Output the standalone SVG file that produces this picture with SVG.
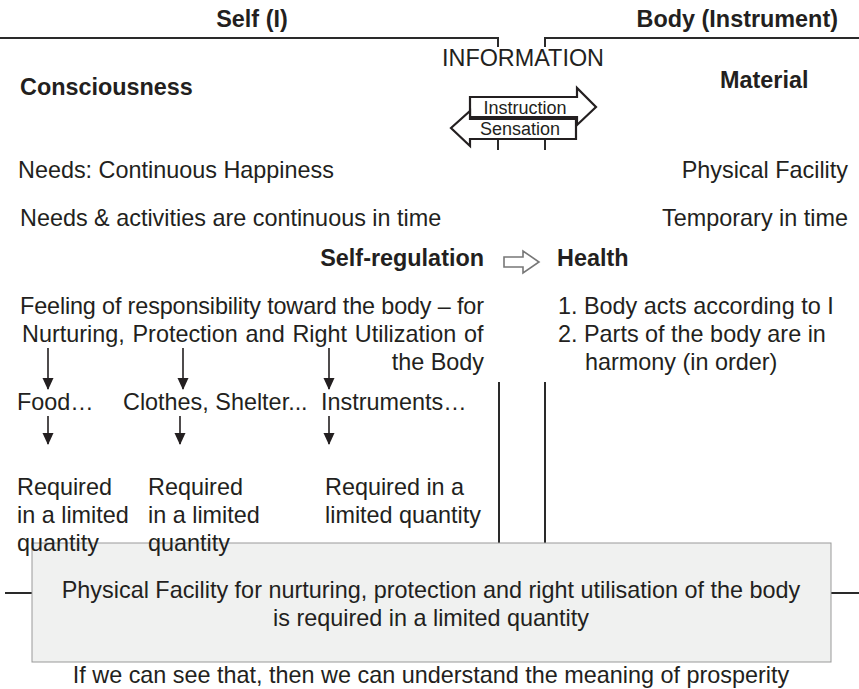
<svg xmlns="http://www.w3.org/2000/svg" width="859" height="689" viewBox="0 0 859 689">
<style>
text{font-family:"Liberation Sans",Arial,sans-serif;fill:#231f20;font-size:23.4px}
.b{font-weight:bold}
.e{text-anchor:end}
.m{text-anchor:middle}
.sm{font-size:18px}
.ln{stroke:#2a2a2a;stroke-width:2;fill:none}
.blk{fill:#fff;stroke:#231f20;stroke-width:2.2;stroke-linejoin:miter}
.dn{stroke:#231f20;stroke-width:1.6;fill:none;marker-end:url(#ah)}
</style>
<defs>
<marker id="ah" markerWidth="12" markerHeight="12" refX="11" refY="6" orient="auto" markerUnits="userSpaceOnUse" viewBox="0 0 12 12">
<path d="M0,0.5 L12,6 L0,11.5 Z" fill="#231f20"/>
</marker>
</defs>
<g id="connectors">
<path class="ln" d="M0,38 H498 V47"/>
<path class="ln" d="M545,47 V38 H859"/>
<path class="ln" d="M498,139 V150 M545,139 V150"/>
<path class="ln" d="M499,382 V543 M545,382 V543"/>
<path class="ln" d="M5,593 H32 M831,593 H859"/>
<line class="dn" x1="48" y1="348" x2="48" y2="389"/>
<line class="dn" x1="183" y1="348" x2="183" y2="389"/>
<line class="dn" x1="329" y1="348" x2="329" y2="389"/>
<line class="dn" x1="48" y1="416" x2="48" y2="444"/>
<line class="dn" x1="180" y1="416" x2="180" y2="444"/>
<line class="dn" x1="329" y1="416" x2="329" y2="444"/>
<path d="M504,257 H523 V251 L539,262 L523,273 V267 H504 Z" fill="#fff" stroke="#777" stroke-width="1.6"/>
</g>
<g id="self-header"><text class="b m" x="252" y="27">Self (I)</text></g>
<g id="body-header"><text class="b e" x="838" y="27">Body (Instrument)</text></g>
<g id="information"><text class="m" x="523" y="66">INFORMATION</text></g>
<g id="consciousness"><text class="b" x="20" y="95">Consciousness</text></g>
<g id="material"><text class="b" x="720" y="88">Material</text></g>
<g id="instruction">
<path class="blk" d="M470,97 H577 V88 L596,107 L577,125 V117 H470 Z"/>
<text class="sm m" x="525" y="114">Instruction</text>
</g>
<g id="sensation">
<path class="blk" d="M451,128 L470,111 V119 H576 V139 H470 V146 Z"/>
<text class="sm m" x="520" y="135">Sensation</text>
</g>
<g id="needs"><text x="18" y="178">Needs: Continuous Happiness</text></g>
<g id="physical-facility"><text class="e" x="848" y="178">Physical Facility</text></g>
<g id="continuous"><text x="20" y="226">Needs &amp; activities are continuous in time</text></g>
<g id="temporary"><text class="e" x="848" y="226">Temporary in time</text></g>
<g id="self-regulation"><text class="b e" x="484" y="266">Self-regulation</text></g>
<g id="health"><text class="b" x="557" y="266">Health</text></g>
<g id="responsibility">
<text x="20" y="314" textLength="464" lengthAdjust="spacing">Feeling of responsibility toward the body – for</text>
<text x="22" y="342" word-spacing="1.3">Nurturing, Protection and Right Utilization of</text>
<text class="e" x="484" y="370">the Body</text>
</g>
<g id="health-list">
<text x="558" y="314">1. Body acts according to I</text>
<text x="558" y="342">2. Parts of the body are in</text>
<text x="585" y="370">harmony (in order)</text>
</g>
<g id="food"><text x="17" y="410">Food…</text></g>
<g id="clothes"><text x="123" y="410">Clothes, Shelter...</text></g>
<g id="instruments"><text x="321" y="410">Instruments…</text></g>
<g id="summary-box">
<rect x="32" y="543" width="799" height="119" fill="#f0f1f0" stroke="#999" stroke-width="1"/>
<text class="m" x="431" y="598">Physical Facility for nurturing, protection and right utilisation of the body</text>
<text class="m" x="431" y="626">is required in a limited quantity</text>
</g>
<g id="req-food">
<text x="17" y="495">Required</text>
<text x="17" y="523">in a limited</text>
<text x="17" y="551">quantity</text>
</g>
<g id="req-clothes">
<text x="148" y="495">Required</text>
<text x="148" y="523">in a limited</text>
<text x="148" y="551">quantity</text>
</g>
<g id="req-instruments">
<text x="325" y="495">Required in a</text>
<text x="325" y="523">limited quantity</text>
</g>
<g id="prosperity"><text class="m" x="431" y="683">If we can see that, then we can understand the meaning of prosperity</text></g>
</svg>
